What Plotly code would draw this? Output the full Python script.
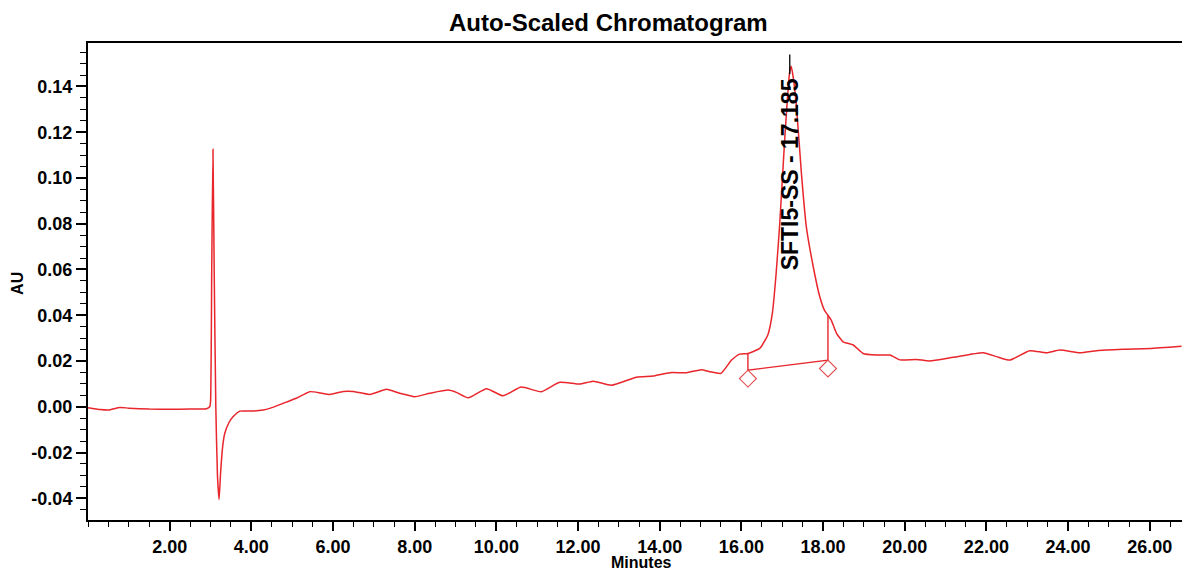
import plotly.graph_objects as go

# ---- data ----
time_min = [0.0, 0.3, 0.5, 0.78, 1.0, 1.5, 2.0, 2.5, 2.9, 2.98, 3.00, 3.03, 3.06, 3.09, 3.13,
            3.17, 3.21, 3.25, 3.30, 3.35, 3.45, 3.55, 3.72, 4.0, 4.29, 4.45, 4.78, 5.1, 5.43,
            5.7, 5.92, 6.25, 6.49, 6.9, 7.31, 7.63, 8.0, 8.37, 8.82, 9.02, 9.31, 9.76, 10.16,
            10.61, 11.1, 11.55, 12.04, 12.37, 12.82, 13.43, 13.84, 14.25, 14.66, 15.02, 15.23,
            15.5, 15.76, 15.96, 16.16, 16.45, 16.65, 16.76, 16.85, 16.94, 17.06, 17.18, 17.22,
            17.27, 17.35, 17.47, 17.59, 17.76, 17.92, 18.04, 18.12, 18.2, 18.33, 18.49, 18.74,
            18.98, 19.31, 19.64, 19.88, 20.29, 20.61, 21.19, 21.92, 22.25, 22.57, 23.06, 23.47,
            23.8, 24.29, 24.7, 25.35, 26.0, 26.78]
absorbance_au = [-0.0004, -0.0012, -0.0014, -0.0003, -0.0006, -0.0010, -0.0011, -0.0010, -0.0009,
                 0.0000, 0.0020, 0.0600, 0.1126, 0.0600, 0.0000, -0.0300, -0.0405, -0.0280,
                 -0.0170, -0.0116, -0.0070, -0.0044, -0.0019, -0.0019, -0.0014, -0.0007, 0.0015,
                 0.0037, 0.0066, 0.0060, 0.0054, 0.0067, 0.0067, 0.0054, 0.0076, 0.0059, 0.0044,
                 0.0059, 0.0073, 0.0063, 0.0039, 0.0079, 0.0048, 0.0086, 0.0066, 0.0107, 0.0099,
                 0.0112, 0.0094, 0.0129, 0.0134, 0.0149, 0.0149, 0.0162, 0.0153, 0.0146, 0.0204,
                 0.0230, 0.0233, 0.0255, 0.0315, 0.0410, 0.0580, 0.0802, 0.1166, 0.1460, 0.1488,
                 0.1440, 0.1310, 0.1020, 0.0787, 0.0612, 0.0481, 0.0420, 0.0400, 0.0379, 0.0321,
                 0.0284, 0.0270, 0.0233, 0.0226, 0.0226, 0.0205, 0.0207, 0.0200, 0.0216, 0.0236,
                 0.0219, 0.0204, 0.0245, 0.0236, 0.0248, 0.0236, 0.0245, 0.0251, 0.0255, 0.0265]

# integration events for the labelled peak
peak_name = "SFTI5-SS"
peak_rt = 17.185
integ_start_time = 16.16
integ_start_signal = 0.0233
integ_start_base = 0.0160
integ_end_time = 18.12
integ_end_signal = 0.0400
integ_end_base = 0.0204
marker_offset_au = 0.0037

x_tick_vals = [2, 4, 6, 8, 10, 12, 14, 16, 18, 20, 22, 24, 26]
x_tick_text = ["2.00", "4.00", "6.00", "8.00", "10.00", "12.00", "14.00", "16.00",
               "18.00", "20.00", "22.00", "24.00", "26.00"]
y_tick_vals = [-0.04, -0.02, 0.0, 0.02, 0.04, 0.06, 0.08, 0.10, 0.12, 0.14]
y_tick_text = ["-0.04", "-0.02", "0.00", "0.02", "0.04", "0.06", "0.08", "0.10", "0.12", "0.14"]

title_text = "Auto-Scaled Chromatogram"
x_title = "Minutes"
y_title = "AU"

RED = "#e8262c"
FONT = "Liberation Sans, Arial, sans-serif"

fig = go.Figure()

fig.add_trace(go.Scatter(
    x=time_min, y=absorbance_au, mode="lines",
    line=dict(color=RED, width=1.5, shape="spline", smoothing=0.5),
    hoverinfo="skip", showlegend=False))

# baseline with drop lines
fig.add_trace(go.Scatter(
    x=[integ_start_time, integ_start_time, integ_end_time, integ_end_time],
    y=[integ_start_signal, integ_start_base, integ_end_base, integ_end_signal],
    mode="lines", line=dict(color=RED, width=1.4),
    hoverinfo="skip", showlegend=False))

# start/end diamond markers
fig.add_trace(go.Scatter(
    x=[integ_start_time, integ_end_time],
    y=[integ_start_base - marker_offset_au, integ_end_base - marker_offset_au],
    mode="markers",
    marker=dict(symbol="diamond-open", size=13, color="#e0484c", line=dict(width=1.1)),
    hoverinfo="skip", showlegend=False))

# apex tick
apex = max(absorbance_au)
fig.add_trace(go.Scatter(
    x=[peak_rt, peak_rt], y=[apex - 0.0035, apex + 0.0052],
    mode="lines", line=dict(color="black", width=1.3),
    hoverinfo="skip", showlegend=False))

fig.add_annotation(
    x=peak_rt, y=0.1015, xref="x", yref="y",
    text=f"{peak_name} - {peak_rt:.3f}", textangle=-90, showarrow=False,
    font=dict(family=FONT, size=23, color="black", weight="bold"),
    xanchor="center", yanchor="middle")

fig.add_annotation(
    x=0.4755, y=1.0, xref="paper", yref="paper", yshift=21,
    text=title_text, showarrow=False,
    font=dict(family=FONT, size=24, color="black", weight="bold"),
    xanchor="center", yanchor="middle")

fig.add_annotation(
    x=0.506, y=-0.090, xref="paper", yref="paper",
    text=x_title, showarrow=False,
    font=dict(family=FONT, size=16, color="black", weight="bold"),
    xanchor="center", yanchor="middle")

fig.add_annotation(
    x=-0.064, y=0.497, xref="paper", yref="paper",
    text=y_title, showarrow=False, textangle=-90,
    font=dict(family=FONT, size=16, color="black", weight="bold"),
    xanchor="center", yanchor="middle")

fig.update_xaxes(
    range=[0, 26.79], showgrid=False, zeroline=False,
    showline=True, linecolor="black", linewidth=2, mirror=True,
    tickmode="array", tickvals=x_tick_vals, ticktext=x_tick_text,
    ticks="outside", ticklen=9, tickwidth=1.5, tickcolor="black",
    tickfont=dict(family=FONT, size=18, color="black", weight="bold"),
    minor=dict(ticks="outside", dtick=0.5, tick0=0, ticklen=5, tickwidth=1.3,
               tickcolor="black", showgrid=False))

fig.update_yaxes(
    range=[-0.0495, 0.159], showgrid=False, zeroline=False,
    showline=True, linecolor="black", linewidth=2, mirror=False,
    tickmode="array", tickvals=y_tick_vals, ticktext=y_tick_text,
    ticks="outside", ticklen=10, tickwidth=1.5, tickcolor="black",
    tickfont=dict(family=FONT, size=18, color="black", weight="bold"),
    minor=dict(ticks="outside", dtick=0.005, tick0=0, ticklen=6, tickwidth=1.3,
               tickcolor="black", showgrid=False))

fig.update_layout(
    width=1182, height=571,
    margin=dict(l=88, r=0, t=43, b=51),
    paper_bgcolor="white", plot_bgcolor="white",
    showlegend=False)

fig.write_html("out.html")
